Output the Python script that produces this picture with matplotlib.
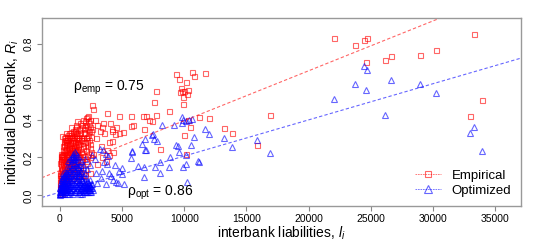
import numpy as np
import matplotlib
matplotlib.use('Agg')
from matplotlib import pyplot as plt

plt.rcParams['font.family'] = ['Liberation Sans', 'DejaVu Sans']
plt.rcParams['mathtext.fontset'] = 'custom'
plt.rcParams['mathtext.rm'] = 'Liberation Sans'
plt.rcParams['mathtext.it'] = 'Liberation Sans:italic'

# empirical DebtRank vs interbank liabilities (red squares)
emp_x = [
    20, 40, 60, 80, 100, 120, 140, 160, 180, 200, 30, 50, 70, 90, 110, 130, 150, 170, 190, 210, 230, 160, 160, 250, 240,
    260, 280, 300, 320, 340, 360, 380, 400, 420, 440, 460, 480, 500, 520, 540, 560, 580, 600, 300, 350, 450, 550, 500,
    620, 650, 680, 710, 740, 770, 800, 830, 860, 890, 920, 950, 980, 1010, 1040, 1070, 700, 750, 900, 1000, 1050, 1100, 640, 950,
    1130, 1160, 1190, 1220, 1250, 1280, 1310, 1340, 1370, 1400, 1430, 1460, 1490, 1520, 1550, 1580, 1610, 1640, 1670, 1200, 1300, 1500, 1650, 1700,
    1750, 1800, 1850, 1900, 1950, 2000, 2050, 2100, 2150, 2200, 2250, 2300, 2350, 2400, 2450, 2500, 2550, 1800, 1900, 2000, 2200, 2300, 2450, 1850, 2100,
    2570, 2650, 2190, 3820, 3370, 3580, 4440, 4200, 4040, 4500, 3000, 3200, 2800, 3960, 4310, 3960, 3720, 3020, 2430, 4230,
    4760, 5060, 4200, 3800, 3480, 2900, 3300, 2700, 3400, 2600,
    9320, 10630, 10800, 11700, 9560, 10120, 9740, 9850, 10280, 9660, 10010, 10250, 9930, 7760, 9930, 7570, 8800, 7710, 6690, 6960,
    7150, 7440, 5700, 4760, 5730, 5860, 6750, 8060, 9980, 10470, 10300, 10170, 11160, 11990, 13200, 13870, 15870, 16890,
    22060, 24680, 24420, 23740, 33250, 30220, 28960, 26610, 26150, 24630, 33920, 32960,
    15, 45, 75, 105, 135, 165, 195, 225, 255, 285, 315, 345, 375, 405, 435, 465, 495, 525, 555, 585,
    615, 645, 675, 705, 735, 765, 795, 825, 855, 885, 915, 945, 975, 1005, 1035, 1065, 1095, 1125, 1155, 1185,
    1215, 1245, 1275, 1305, 1335, 1365, 1395, 1425, 1455, 1485,
    25, 55, 85, 115, 145, 175, 205, 235, 265, 295, 325, 355, 385, 415, 445, 475, 505, 535, 565, 595,
    625, 655, 685, 715, 745, 775, 805, 835, 865, 895, 925, 955, 985, 1015, 1045, 1075, 1105, 1135, 1165, 1195,
    1225, 1255, 1285, 1315, 1345, 1375, 1405, 1435, 1465, 1495,
    1520, 1560, 1600, 1640, 1680, 1720, 1760, 1800, 1840, 1880, 1920, 1960, 2000, 2040, 2080, 2120, 2160, 2200, 2240, 2280,
    2320, 2360, 2400, 2440, 2480, 1580, 1740, 1900, 2060, 2220,
]
emp_y = [
    0.01, 0.04, 0.07, 0.10, 0.13, 0.16, 0.19, 0.21, 0.03, 0.06, 0.09, 0.12, 0.15, 0.18, 0.20, 0.02, 0.05, 0.08, 0.11, 0.14, 0.17, 0.313, 0.213, 0.22, 0.19,
    0.03, 0.07, 0.11, 0.15, 0.19, 0.23, 0.26, 0.29, 0.05, 0.09, 0.13, 0.17, 0.21, 0.25, 0.28, 0.31, 0.12, 0.18, 0.24, 0.28, 0.31, 0.22, 0.33,
    0.06, 0.10, 0.14, 0.18, 0.22, 0.26, 0.30, 0.33, 0.12, 0.16, 0.20, 0.24, 0.28, 0.31, 0.34, 0.09, 0.29, 0.33, 0.36, 0.25, 0.19, 0.23, 0.20, 0.15,
    0.12, 0.16, 0.20, 0.24, 0.27, 0.30, 0.33, 0.36, 0.39, 0.14, 0.18, 0.22, 0.26, 0.29, 0.32, 0.35, 0.38, 0.21, 0.25, 0.35, 0.22, 0.10, 0.16, 0.30,
    0.18, 0.22, 0.26, 0.29, 0.33, 0.36, 0.39, 0.41, 0.24, 0.28, 0.32, 0.35, 0.38, 0.20, 0.27, 0.31, 0.34, 0.37, 0.40, 0.14, 0.17, 0.42, 0.40, 0.12, 0.30,
    0.476, 0.454, 0.413, 0.433, 0.359, 0.330, 0.323, 0.35, 0.380, 0.36, 0.37, 0.34, 0.40, 0.283, 0.230, 0.213, 0.179, 0.165, 0.116, 0.339,
    0.327, 0.334, 0.285, 0.239, 0.382, 0.30, 0.26, 0.22, 0.20, 0.35,
    0.640, 0.652, 0.630, 0.644, 0.612, 0.600, 0.565, 0.550, 0.556, 0.543, 0.552, 0.535, 0.520, 0.552, 0.482, 0.491, 0.446, 0.425, 0.418, 0.417,
    0.396, 0.392, 0.418, 0.418, 0.367, 0.369, 0.350, 0.244, 0.320, 0.359, 0.400, 0.220, 0.415, 0.406, 0.353, 0.330, 0.264, 0.422,
    0.832, 0.830, 0.821, 0.792, 0.853, 0.768, 0.739, 0.735, 0.712, 0.702, 0.501, 0.420,
    0.06, 0.17, 0.02, 0.22, 0.09, 0.14, 0.19, 0.05, 0.26, 0.12, 0.20, 0.08, 0.30, 0.16, 0.24, 0.11, 0.27, 0.07, 0.18, 0.23,
    0.29, 0.13, 0.21, 0.10, 0.25, 0.31, 0.15, 0.19, 0.27, 0.22, 0.09, 0.32, 0.17, 0.13, 0.26, 0.21, 0.29, 0.24, 0.08, 0.31,
    0.18, 0.34, 0.14, 0.26, 0.20, 0.30, 0.24, 0.33, 0.11, 0.27,
    0.11, 0.04, 0.18, 0.08, 0.21, 0.01, 0.12, 0.16, 0.09, 0.20, 0.27, 0.14, 0.05, 0.22, 0.18, 0.29, 0.10, 0.24, 0.15, 0.07,
    0.27, 0.19, 0.32, 0.24, 0.13, 0.17, 0.23, 0.28, 0.10, 0.30, 0.25, 0.19, 0.14, 0.23, 0.29, 0.16, 0.33, 0.12, 0.25, 0.22,
    0.28, 0.18, 0.32, 0.10, 0.37, 0.23, 0.28, 0.15, 0.31, 0.20,
    0.20, 0.27, 0.15, 0.33, 0.23, 0.29, 0.36, 0.19, 0.31, 0.25, 0.35, 0.21, 0.28, 0.33, 0.18, 0.37, 0.26, 0.31, 0.22, 0.39,
    0.29, 0.34, 0.25, 0.36, 0.23, 0.12, 0.10, 0.08, 0.11, 0.21,
]

# optimized DebtRank vs interbank liabilities (blue triangles)
opt_x = [
    10, 30, 50, 70, 90, 110, 130, 150, 170, 190, 210, 230, 250, 270, 290, 60, 120, 200, 280, 160, 240,
    320, 350, 380, 410, 440, 470, 500, 530, 560, 590, 620, 650, 680, 710, 740, 770, 800, 830, 860, 890, 400, 550, 700, 850, 600, 750,
    920, 950, 980, 1010, 1040, 1070, 1100, 1130, 1160, 1190, 1220, 1250, 1280, 1310, 1340, 1370, 1400, 1430, 1460, 1490, 1520, 1550, 1580, 1100, 1000, 1200, 1300, 1450,
    1620, 1660, 1700, 1740, 1780, 1820, 1860, 1900, 1940, 1980, 2020, 2060, 2100, 2140, 2180, 2220, 2260, 2300, 2340, 2380, 2420, 2460, 2500, 2560, 1700, 1900, 2000, 2200, 2400, 1650, 1800, 2050,
    5000, 5140, 4710, 4500, 4420, 4800, 4980, 3900, 3700, 3240, 3500, 3580, 3800, 2570, 2800, 3000, 3300, 2380, 2900, 3400, 4100, 4300, 3700, 4000,
    9800, 10650, 9850, 9880, 10120, 10390, 9160, 8190, 7410, 7600, 7520, 7820, 6830, 6900, 5830, 5830, 5700, 6260, 6770, 6750, 7630, 8080,
    8080, 8800, 8840, 9320, 9500, 9580, 9880, 10200, 10550, 10790, 10170, 10120, 11160, 11080, 12020, 11700, 13200, 13870, 15870, 16890, 6830, 6640,
    22060, 24680, 24420, 23740, 33250, 30220, 28960, 26610, 26150, 24630, 33920, 32960,
    15, 35, 55, 75, 95, 115, 135, 155, 175, 195, 215, 235, 255, 275, 295, 315, 335, 355, 375, 395,
    415, 435, 455, 475, 495, 515, 535, 555, 575, 595, 615, 635, 655, 675, 695, 715, 735, 755, 775, 795,
    820, 850, 880, 910, 940, 970, 1000, 1030, 1060, 1090, 1120, 1150, 1180, 1210, 1240, 1270, 1300, 1330, 1360, 1390,
    1420, 1450, 1480, 1510, 1540, 1570, 1600, 1630, 1660, 1690, 1720, 1750, 1780, 1810, 1840, 1870, 1900, 1930, 1960, 1990,
    2020, 2050, 2080, 2110, 2140, 2170, 2200, 2230, 2260, 2290, 2320, 2350, 2380, 2410, 2440, 2470, 2500, 2530, 2600, 2700,
    880, 960, 1040, 1120, 1180, 1260, 1340, 1420, 1500, 1580, 1660, 1740,
]
opt_y = [
    0.00, 0.01, 0.02, 0.01, 0.03, 0.02, 0.04, 0.03, 0.05, 0.02, 0.04, 0.06, 0.03, 0.07, 0.05, 0.04, 0.06, 0.08, 0.10, 0.09, 0.12,
    0.02, 0.04, 0.06, 0.03, 0.08, 0.05, 0.10, 0.02, 0.07, 0.12, 0.04, 0.09, 0.14, 0.06, 0.11, 0.03, 0.16, 0.08, 0.13, 0.05, 0.11, 0.15, 0.18, 0.19, 0.01, 0.01,
    0.02, 0.07, 0.12, 0.17, 0.21, 0.04, 0.09, 0.14, 0.19, 0.02, 0.06, 0.11, 0.16, 0.03, 0.08, 0.13, 0.18, 0.05, 0.10, 0.15, 0.02, 0.07, 0.12, 0.22, 0.20, 0.23, 0.20, 0.21,
    0.03, 0.06, 0.09, 0.13, 0.04, 0.08, 0.16, 0.05, 0.10, 0.03, 0.07, 0.12, 0.04, 0.09, 0.05, 0.02, 0.07, 0.04, 0.06, 0.03, 0.08, 0.05, 0.04, 0.06, 0.18, 0.15, 0.19, 0.14, 0.16, 0.01, 0.01, 0.02,
    0.114, 0.060, 0.066, 0.07, 0.158, 0.13, 0.142, 0.207, 0.22, 0.246, 0.24, 0.177, 0.165, 0.213, 0.19, 0.066, 0.09, 0.037, 0.12, 0.13, 0.10, 0.08, 0.06, 0.12,
    0.415, 0.401, 0.380, 0.397, 0.394, 0.399, 0.371, 0.371, 0.320, 0.296, 0.323, 0.287, 0.239, 0.240, 0.230, 0.235, 0.198, 0.156, 0.151, 0.098, 0.148, 0.118,
    0.174, 0.149, 0.200, 0.264, 0.260, 0.227, 0.151, 0.072, 0.264, 0.309, 0.167, 0.214, 0.177, 0.181, 0.323, 0.351, 0.304, 0.255, 0.292, 0.222, 0.299, 0.269,
    0.507, 0.660, 0.681, 0.586, 0.362, 0.540, 0.586, 0.607, 0.422, 0.554, 0.232, 0.329,
    0.02, 0.04, 0.01, 0.05, 0.02, 0.07, 0.03, 0.01, 0.06, 0.04, 0.02, 0.08, 0.05, 0.03, 0.09, 0.01, 0.06, 0.04, 0.10, 0.02,
    0.07, 0.05, 0.03, 0.12, 0.06, 0.04, 0.09, 0.02, 0.05, 0.08, 0.03, 0.11, 0.06, 0.02, 0.10, 0.04, 0.07, 0.13, 0.05, 0.03,
    0.05, 0.02, 0.10, 0.06, 0.14, 0.03, 0.08, 0.12, 0.01, 0.06, 0.17, 0.04, 0.09, 0.13, 0.02, 0.07, 0.11, 0.05, 0.15, 0.03,
    0.08, 0.12, 0.04, 0.06, 0.10, 0.02, 0.07, 0.05, 0.11, 0.03, 0.06, 0.04, 0.08, 0.02, 0.05, 0.07, 0.03, 0.06, 0.04, 0.02,
    0.05, 0.03, 0.06, 0.02, 0.04, 0.07, 0.03, 0.05, 0.02, 0.04, 0.06, 0.03, 0.05, 0.02, 0.04, 0.03, 0.06, 0.02, 0.04, 0.03,
    0.17, 0.19, 0.15, 0.20, 0.16, 0.18, 0.22, 0.17, 0.19, 0.14, 0.16, 0.12,
]

# linear fits (intercept, slope) and correlations
fit_emp = (0.131, 2.63e-5)
fit_opt = (0.0166, 1.908e-5)
rho_emp = 0.75
rho_opt = 0.86

xticks = [0, 5000, 10000, 15000, 20000, 25000, 30000, 35000]
yticks = [0.0, 0.2, 0.4, 0.6, 0.8]

fig = plt.figure(figsize=(5.4, 2.43), dpi=100)
ax = fig.add_axes([0.0772, 0.152, 0.8871, 0.774])

red = (1.0, 0.0, 0.0, 0.6)
blue = (0.0, 0.0, 1.0, 0.6)

ax.plot(emp_x, emp_y, linestyle='none', marker='s', markersize=3.6, markerfacecolor='none',
        markeredgecolor=red, markeredgewidth=0.8)
ax.plot(opt_x, opt_y, linestyle='none', marker='^', markersize=4.2, markerfacecolor='none',
        markeredgecolor=blue, markeredgewidth=0.8)

ax.axline((0, fit_emp[0]), slope=fit_emp[1], color=red, linestyle=(0, (3, 2)), linewidth=0.8)
ax.axline((0, fit_opt[0]), slope=fit_opt[1], color=blue, linestyle=(0, (3, 2)), linewidth=0.8)

ax.text(1090, 0.565, r'$\mathrm{ρ}_{\mathrm{emp}}$ = %.2f' % rho_emp, fontsize=10, ha='left', va='center')
ax.text(5380, 0.011, r'$\mathrm{ρ}_{\mathrm{opt}}$ = %.2f' % rho_opt, fontsize=10, ha='left', va='center')

h1, = ax.plot([], [], color=red, linestyle=(0, (2, 1)), linewidth=0.6, marker='s', markersize=5,
              markerfacecolor='none', markeredgecolor=red, markeredgewidth=0.8)
h2, = ax.plot([], [], color=blue, linestyle=(0, (2, 1)), linewidth=0.6, marker='^', markersize=6,
              markerfacecolor='none', markeredgecolor=blue, markeredgewidth=0.8)
ax.legend([h1, h2], ['Empirical', 'Optimized'], loc='lower right', frameon=False, fontsize=9.5,
          handlelength=2.0, handletextpad=0.8, labelspacing=0.2, borderaxespad=0.3)

ax.set_xlim(-1446, 37028)
ax.set_ylim(-0.056, 0.935)
ax.set_xticks(xticks)
ax.set_yticks(yticks)
ax.set_xticklabels([str(t) for t in xticks])
ax.set_yticklabels(['%.1f' % t for t in yticks], rotation=90, va='center')
ax.tick_params(axis='both', labelsize=7.5, color='#888888', length=3.5, width=0.8, pad=2)
for s in ax.spines.values():
    s.set_color('#999999')
    s.set_linewidth(1.0)

ax.set_xlabel(r'interbank liabilities, $l_i$', fontsize=10, labelpad=1)
ax.set_ylabel(r'individual DebtRank, $R_i$', fontsize=10, labelpad=2)

fig.savefig('out.png', dpi=100)
